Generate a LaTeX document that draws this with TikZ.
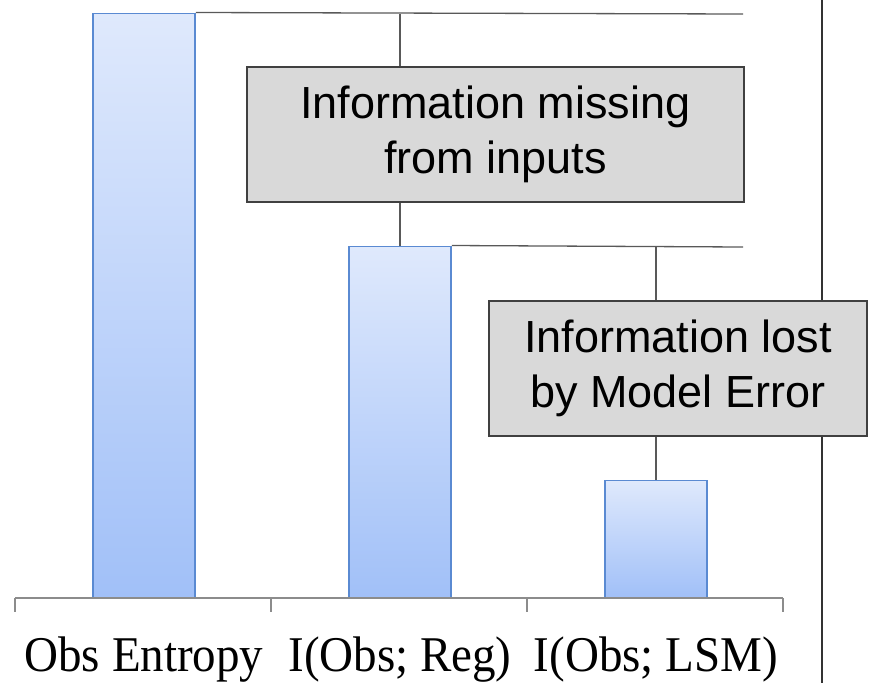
\documentclass[tikz,border=0pt]{standalone}
\usepackage{fontspec}
\setmainfont{Liberation Serif}
\setsansfont{Liberation Sans}
\usetikzlibrary{positioning,calc}
\definecolor{barTop}{HTML}{DFE9FC}
\definecolor{barBot}{HTML}{A1C0F8}
\definecolor{barLine}{HTML}{5A8AD2}
\definecolor{boxFill}{HTML}{D9D9D9}

\begin{document}
\begin{tikzpicture}[x=1pt,y=-1pt,thick,
    bar/.style={draw=barLine,line width=1.5pt,top color=barTop,bottom color=barBot,minimum width=102pt,anchor=south,inner sep=0pt},
    label box/.style={draw=black!75,fill=boxFill,line width=1.5pt,font=\sffamily\fontsize{45}{55}\selectfont,align=center,inner sep=0pt,minimum height=135pt},
    guide/.style={draw=black!65,line width=1.3pt},
    axis/.style={draw=black!45,line width=1.5pt},
    cat/.style={font=\fontsize{50}{56}\selectfont,anchor=base,xscale=0.94}]

    \useasboundingbox (0,0) rectangle (869,683);

    \coordinate (sepT) at (822,0);
    \coordinate (sepB) at (822,683);
    \draw[line width=1.5pt,black!80] (sepT) -- (sepB);

    \foreach \name/\x/\h/\txt in {obs/144/584/{Obs Entropy},reg/400/351/{I(Obs; Reg)},lsm/656/117/{I(Obs; LSM)}}{
        \node[bar,minimum height=\h pt] (\name) at (\x,598) {};
        \node[cat] (\name lbl) at (\x,671) {\txt};
    }

    \node[label box,minimum width=497pt] (missing) at (495.5,134.5) {Information missing\\from inputs};
    \node[label box,minimum width=378pt] (lost) at (678,368.5) {Information lost\\by Model Error};

    \coordinate (topend) at (743,14);
    \coordinate (midend) at (743,247);

    \draw[guide] (obs.north east) -- (topend);
    \draw[guide] (reg.north east) -- (midend);
    \draw[guide] (reg.north |- topend) -- (missing.north -| reg.north);
    \draw[guide] (missing.south -| reg.north) -- (reg.north);
    \draw[guide] (lsm.north |- midend) -- (lost.north -| lsm.north);
    \draw[guide] (lost.south -| lsm.north) -- (lsm.north);

    \coordinate (axisL) at (15,598);
    \coordinate (axisR) at (783,598);
    \draw[axis] (axisL) -- (axisR);
    \foreach \x in {15,271,527,783}
        \draw[axis] (\x,598) -- (\x,612);

\end{tikzpicture}
\end{document}
